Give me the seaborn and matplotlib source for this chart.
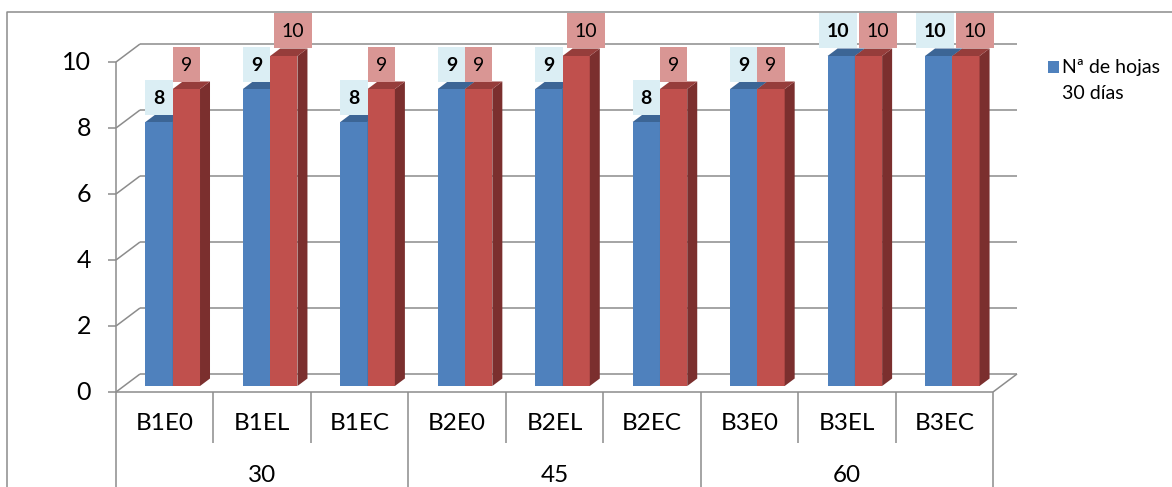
import numpy as np
import pandas as pd
import matplotlib
matplotlib.use("Agg")
import matplotlib.pyplot as plt
import seaborn as sns
from matplotlib.patches import Polygon, Rectangle
from matplotlib.lines import Line2D
from matplotlib.transforms import offset_copy, IdentityTransform

# ---- data -------------------------------------------------------------
categories = ["B1E0", "B1EL", "B1EC", "B2E0", "B2EL", "B2EC", "B3E0", "B3EL", "B3EC"]
groups = ["30", "45", "60"]
hojas_serie_a = [8, 9, 8, 9, 9, 8, 9, 10, 10]
hojas_serie_b = [9, 10, 9, 9, 10, 9, 9, 10, 10]
legend_lines = ["Nª de hojas", "30 días"]
y_ticks = [0, 2, 4, 6, 8, 10]

# ---- style ------------------------------------------------------------
sns.set_theme(style="white")
plt.rcParams["font.family"] = ["Lato", "DejaVu Sans"]

BLUE, BLUE_TOP = "#4f81bd", "#3c6595"
RED, RED_TOP, RED_SIDE = "#c0504d", "#963d3b", "#7b2f2e"
BLUE_LBL, RED_LBL = "#dbeef4", "#d99694"
GRID = "#8c8c8c"
LW = 1.1

W, H = 1172, 487
fig = plt.figure(figsize=(W / 100, H / 100), dpi=100)
fig.patch.set_facecolor("white")

# front plane of the 3-D box (pixel rows measured from the top)
fx0, fx1 = 116, 993
fy0, fy1 = 392, 62
ax = fig.add_axes([fx0 / W, (H - fy0) / H, (fx1 - fx0) / W, (fy0 - fy1) / H])

df = pd.DataFrame({
    "categoria": categories * 2,
    "valor": hojas_serie_a + hojas_serie_b,
    "serie": ["a"] * len(categories) + ["b"] * len(categories),
})
sns.barplot(data=df, x="categoria", y="valor", hue="serie", order=categories,
            hue_order=["a", "b"], palette=[BLUE, RED], width=0.56,
            saturation=1, legend=False, linewidth=0, ax=ax)
ax.set_xlim(-0.5, len(categories) - 0.5)
ax.set_ylim(0, 10)
ax.axis("off")

ID = IdentityTransform()
DEPTH = np.array([24.0, 18.0])   # full depth of the box in pixels
D0, D1 = 1 / 3, 1 / 3 + 10 / 24  # bar front / back depth fraction


def px(x, y, d=0.0):
    return ax.transData.transform((x, y)) + d * DEPTH


def line(pts, z=1, color=GRID, lw=LW):
    pts = np.asarray(pts)
    ax.add_line(Line2D(pts[:, 0], pts[:, 1], transform=ID, clip_on=False,
                       color=color, lw=lw, zorder=z, solid_capstyle="butt"))


xmin, xmax = -0.5, len(categories) - 0.5

# back wall gridlines and left side wall
for t in y_ticks:
    line([px(xmin, t, 1), px(xmax, t, 1)])
    line([px(xmin, t, 0), px(xmin, t, 1)])
    # tick marks on the front axis
    p = px(xmin, t)
    line([p - [8, 0], p])
    fig.text(p[0] - 25, p[1], str(t), transform=ID, ha="right", va="center",
             fontsize=18, color="black")

# floor
line([px(xmax, 0, 0), px(xmax, 0, 1)])
line([px(xmin, 0, 0), px(xmax, 0, 0)], z=8)
# front vertical axis, extended through the label table
bot = -2
line([px(xmin, 10), (px(xmin, 0)[0], bot)], z=8)

# label table below the floor
row_split = H - 443
for i in range(1, len(categories) + 1):
    xx = px(xmin + i, 0)[0]
    end = bot if i % 3 == 0 else row_split
    line([(xx, px(0, 0)[1]), (xx, end)], z=8)
for i, c in enumerate(categories):
    fig.text(px(i, 0)[0], H - 424, c, transform=ID, ha="center", va="center",
             fontsize=17.5, color="black")
for g, name in enumerate(groups):
    fig.text(px(3 * g + 1, 0)[0], H - 476, name, transform=ID, ha="center",
             va="center", fontsize=17.5, color="black")

# 3-D bars built from the seaborn bars
front_off = offset_copy(ax.transData, fig, x=D0 * DEPTH[0], y=D0 * DEPTH[1], units="dots")
specs = [(BLUE_TOP, BLUE_TOP, BLUE_LBL, "bold", 3, "right"),
         (RED_TOP, RED_SIDE, RED_LBL, "normal", 5, "left")]
BOX_H = 35
for cont, (top_c, side_c, lbl_c, weight, z, anchor) in zip(ax.containers, specs):
    for bar in cont:
        xl, w, h = bar.get_x(), bar.get_width(), bar.get_height()
        bar.set_transform(front_off)
        bar.set_clip_on(False)
        bar.set_zorder(z)
        fl, fr = px(xl, h, D0), px(xl + w, h, D0)
        bl, br = px(xl, h, D1), px(xl + w, h, D1)
        frb, brb = px(xl + w, 0, D0), px(xl + w, 0, D1)
        ax.add_patch(Polygon([fl, fr, br, bl], closed=True, transform=ID,
                             facecolor=top_c, edgecolor="none", clip_on=False, zorder=z + 0.5))
        ax.add_patch(Polygon([fr, br, brb, frb], closed=True, transform=ID,
                             facecolor=side_c, edgecolor="none", clip_on=False, zorder=z + 0.4))
        # value label in a shaded box just above the bar
        label = f"{h:g}"
        bw = fr[0] - fl[0]
        box_w = max(bw, 11 * len(label) + 16)
        if box_w > bw + 0.5:
            x_left = fr[0] + 2 - box_w if anchor == "right" else fl[0] + 4
        else:
            x_left = fl[0]
        y_bot = bl[1] - (0 if box_w <= bw + 0.5 else -1)
        ax.add_patch(Rectangle((x_left, y_bot), box_w, BOX_H, transform=ID,
                               facecolor=lbl_c, edgecolor="none", clip_on=False, zorder=9))
        fig.text(x_left + box_w / 2, y_bot + BOX_H / 2, label, transform=ID,
                 ha="center", va="center_baseline", fontsize=14, fontweight=weight,
                 color="black", zorder=10)

# legend (only the first series is named)
ax.add_patch(Rectangle((1048, H - 73), 11, 12, transform=ID, facecolor=BLUE,
                       edgecolor="none", clip_on=False))
fig.text(1062, H - 73, legend_lines[0], transform=ID, ha="left", va="baseline",
         fontsize=14, color="black")
fig.text(1062, H - 99, legend_lines[1], transform=ID, ha="left", va="baseline",
         fontsize=14, color="black")

# outer chart frame (top and left edges)
line([(7, -2), (7, H - 12), (W + 2, H - 12)], color="#8c8c8c", lw=1.1)

fig.savefig("out.png", dpi=100, facecolor="white")
